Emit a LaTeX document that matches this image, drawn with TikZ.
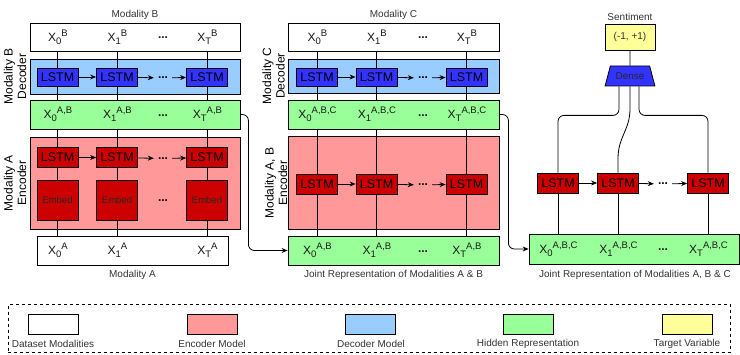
\documentclass[tikz,border=0pt]{standalone}
\usepackage{fontspec}
\setmainfont{Liberation Sans}
\usetikzlibrary{arrows.meta,shapes.geometric}
\definecolor{encfill}{HTML}{FF9999}
\definecolor{decfill}{HTML}{99CCFF}
\definecolor{hidfill}{HTML}{99FF99}
\definecolor{tgtfill}{HTML}{FFFF99}
\definecolor{redcell}{HTML}{CC0000}
\definecolor{bluecell}{HTML}{3333FF}
\definecolor{captxt}{HTML}{333333}
\tikzset{
  box/.style={draw=black, line width=0.8pt, inner sep=0pt, minimum width=#1},
  modbox/.style={box=#1, fill=white},
  hidbox/.style={box=#1, fill=hidfill},
  encbox/.style={box=#1, fill=encfill},
  decbox/.style={box=#1, fill=decfill},
  lstmred/.style={draw=black, line width=0.8pt, fill=redcell, inner sep=0pt, minimum width=41pt, minimum height=20pt, font=\fontsize{12.5}{14}\selectfont},
  lstmblue/.style={draw=black, line width=0.8pt, fill=bluecell, inner sep=0pt, minimum width=41pt, minimum height=18pt, font=\fontsize{12.5}{14}\selectfont},
  embedbox/.style={draw=black, line width=0.8pt, fill=redcell, inner sep=0pt, minimum width=41pt, minimum height=40pt, font=\fontsize{9.5}{11}\selectfont, text=black!85},
  xlab/.style={inner sep=0pt, font=\fontsize{12}{14}\selectfont, text=black!90},
  dotsn/.style={inner sep=0pt, minimum width=18pt, font=\fontsize{12}{14}\selectfont\bfseries},
  captext/.style={inner sep=0pt, font=\fontsize{10}{12}\selectfont, text=captxt},
  side/.style={inner sep=0pt, rotate=90, align=center, font=\fontsize{12}{13.5}\selectfont},
  conn/.style={line width=0.8pt, black},
  arr/.style={conn, -{Stealth[length=6pt,width=5pt]}},
  legbox/.style={draw=black, line width=0.8pt, minimum width=50pt, minimum height=20pt, inner sep=0pt},
}
\newcommand{\xv}[2]{X\raisebox{-3pt}{\fontsize{9.5}{10}\selectfont #1}\raisebox{5pt}{\fontsize{9.5}{10}\selectfont #2}}
\begin{document}
\begin{tikzpicture}[x=1pt,y=-1pt]
\useasboundingbox (0,0) rectangle (740,355);

% ================= LEFT COLUMN =================
\node[captext] (capB) at (135,15) {Modality B};
\node[decbox=210pt, minimum height=35pt] (blueB) at (135,76.5) {};
\node[encbox=210pt, minimum height=92pt] (redA) at (135,183) {};
\node[side] (labB) at (15,76.5) {Modality B\\Decoder};
\node[side] (labA) at (15,183) {Modality A\\Encoder};

\node[modbox=210pt, minimum height=28pt] (topB) at (135,37) {};
\node[modbox=191pt, minimum height=29pt] (botA) at (132.5,250.5) {};

\coordinate (cL0) at (57.5,0);
\coordinate (cL1) at (117,0);
\coordinate (cL2) at (207,0);
\foreach \c in {cL0,cL1,cL2}{
  \draw[conn] (topB.south -| \c) -- (botA.north -| \c);
}
\node[hidbox=210pt, minimum height=29pt] (hidAB1) at (135,114.5) {};

\node[lstmblue] (lb0) at (57.5,77) {LSTM};
\node[lstmblue] (lb1) at (117,77) {LSTM};
\node[lstmblue] (lb2) at (207,77) {LSTM};
\node[dotsn] (dlb) at (163,78) {...};
\draw[arr] (lb0) -- (lb1);
\draw[arr] (lb1) -- (dlb);
\draw[arr] (dlb) -- (lb2);

\node[lstmred] (la0) at (57.5,157.5) {LSTM};
\node[lstmred] (la1) at (117,157.5) {LSTM};
\node[lstmred] (la2) at (207,157.5) {LSTM};
\node[dotsn] (dla) at (163,158.5) {...};
\draw[arr] (la0) -- (la1);
\draw[arr] (la1) -- (dla);
\draw[arr] (dla) -- (la2);

\node[embedbox] (e0) at (57.5,200) {Embed};
\node[embedbox] (e1) at (117,200) {Embed};
\node[embedbox] (e2) at (207,200) {Embed};
\node[dotsn] (de) at (163,201) {...};

\node[xlab] (xb0) at (58,37) {\xv{0}{B}};
\node[xlab] (xb1) at (117.5,37) {\xv{1}{B}};
\node[xlab] (xbd) at (163,38) {\textbf{...}};
\node[xlab] (xb2) at (207.5,37) {\xv{T}{B}};

\node[xlab] (xab0) at (58,114.5) {\xv{0}{A,B}};
\node[xlab] (xab1) at (117.5,114.5) {\xv{1}{A,B}};
\node[xlab] (xabd) at (163,115.5) {\textbf{...}};
\node[xlab] (xab2) at (207.5,114.5) {\xv{T}{A,B}};

\node[xlab] (xa0) at (58,250.5) {\xv{0}{A}};
\node[xlab] (xa1) at (117.5,250.5) {\xv{1}{A}};
\node[xlab] (xa2) at (207.5,250.5) {\xv{T}{A}};
\node[captext] (capA) at (132.5,275) {Modality A};

% ================= MIDDLE COLUMN =================
\node[captext] (capC) at (393.5,15) {Modality C};
\node[decbox=211pt, minimum height=34pt] (blueC) at (393.5,76) {};
\node[encbox=211pt, minimum height=93pt] (redAB) at (393.5,182.5) {};
\node[side] (labC) at (273.5,76) {Modality C\\Decoder};
\node[side] (labAB) at (276,183) {Modality A, B\\Encoder};

\node[modbox=211pt, minimum height=28pt] (topC) at (393.5,37) {};
\node[hidbox=211pt, minimum height=29pt] (hidAB2) at (393.5,250.5) {};

\coordinate (cM0) at (317,0);
\coordinate (cM1) at (376.5,0);
\coordinate (cM2) at (466.5,0);
\foreach \c in {cM0,cM1,cM2}{
  \draw[conn] (topC.south -| \c) -- (hidAB2.north -| \c);
}
\node[hidbox=211pt, minimum height=29pt] (hidABC1) at (393.5,114.5) {};

\node[lstmblue] (mb0) at (317,77) {LSTM};
\node[lstmblue] (mb1) at (376.5,77) {LSTM};
\node[lstmblue] (mb2) at (466.5,77) {LSTM};
\node[dotsn] (dmb) at (423,78) {...};
\draw[arr] (mb0) -- (mb1);
\draw[arr] (mb1) -- (dmb);
\draw[arr] (dmb) -- (mb2);

\node[lstmred] (ma0) at (317,184) {LSTM};
\node[lstmred] (ma1) at (376.5,184) {LSTM};
\node[lstmred] (ma2) at (466.5,184) {LSTM};
\node[dotsn] (dma) at (423,185) {...};
\draw[arr] (ma0) -- (ma1);
\draw[arr] (ma1) -- (dma);
\draw[arr] (dma) -- (ma2);

\node[xlab] (xc0) at (317.5,37) {\xv{0}{B}};
\node[xlab] (xc1) at (377,37) {\xv{1}{B}};
\node[xlab] (xcd) at (423,38) {\textbf{...}};
\node[xlab] (xc2) at (467,37) {\xv{T}{B}};

\node[xlab] (xabc0) at (317.5,114.5) {\xv{0}{A,B,C}};
\node[xlab] (xabc1) at (377,114.5) {\xv{1}{A,B,C}};
\node[xlab] (xabcd) at (423,115.5) {\textbf{...}};
\node[xlab] (xabc2) at (467,114.5) {\xv{T}{A,B,C}};

\node[xlab] (xm0) at (317.5,250.5) {\xv{0}{A,B}};
\node[xlab] (xm1) at (377,250.5) {\xv{1}{A,B}};
\node[xlab] (xmd) at (423,251.5) {\textbf{...}};
\node[xlab] (xm2) at (467,250.5) {\xv{T}{A,B}};
\node[captext] (capJAB) at (393.5,275) {Joint Representation of Modalities A \& B};

% connector left -> middle
\draw[arr, rounded corners=6pt] (hidAB1.east) -- ++(8,0) |- (hidAB2.west);

% ================= RIGHT COLUMN =================
\node[captext] (capS) at (630,17) {Sentiment};
\node[draw=black, line width=0.8pt, fill=tgtfill, minimum width=50pt, minimum height=26pt, inner sep=0pt, font=\fontsize{10}{12}\selectfont, text=captxt] (tgt) at (630,37) {(-1, +1)};
\node[draw=black, line width=0.8pt, fill=bluecell, trapezium, trapezium angle=61, trapezium stretches=true, minimum width=50pt, minimum height=20pt, inner sep=0pt, font=\fontsize{10}{12}\selectfont, text=black!85] (dense) at (630,76) {Dense};
\draw[conn] (tgt.south) -- (dense.north);

\node[hidbox=210pt, minimum height=30pt] (hidABC2) at (634,249) {};
\node[lstmred] (r0) at (558,183) {LSTM};
\node[lstmred] (r1) at (618,183) {LSTM};
\node[lstmred] (r2) at (708,183) {LSTM};
\node[dotsn] (dr) at (663,184) {...};
\draw[arr] (r0) -- (r1);
\draw[arr] (r1) -- (dr);
\draw[arr] (dr) -- (r2);

\draw[conn, rounded corners=6pt] ([xshift=-11pt]dense.south) -- ++(0,29) -| (r0.north);
\draw[conn, rounded corners=6pt] ([xshift=9pt]dense.south) -- ++(0,29) -| (r2.north);
\draw[conn] (dense.south) -- ++(0,22) .. controls +(0,22) and +(0,-22) .. ([yshift=14pt]r1.north) -- (r1.north);

\foreach \n in {r0,r1,r2}{
  \draw[conn] (\n.south) -- (\n.south |- hidABC2.north);
}

\node[xlab] (xr0) at (558.5,249) {\xv{0}{A,B,C}};
\node[xlab] (xr1) at (618.5,249) {\xv{1}{A,B,C}};
\node[xlab] (xrd) at (663,250) {\textbf{...}};
\node[xlab] (xr2) at (708.5,249) {\xv{T}{A,B,C}};
\node[captext] (capJABC) at (635,275) {Joint Representation of Modalities A, B \& C};

% connector middle -> right
\draw[arr, rounded corners=6pt] (hidABC1.east) -- ++(9,0) |- (hidABC2.west);

% ================= LEGEND =================
\node[draw=black, line width=0.7pt, dashed, minimum width=722pt, minimum height=48.5pt, inner sep=0pt] (legend) at (369,328.5) {};
\node[legbox, fill=white] (lg1) at (53,324) {};
\node[legbox, fill=encfill] (lg2) at (212,324) {};
\node[legbox, fill=decfill] (lg3) at (370.5,324) {};
\node[legbox, fill=hidfill] (lg4) at (528,324) {};
\node[legbox, fill=tgtfill] (lg5) at (687,324) {};
\node[captext] (lt1) at (53,344) {Dataset Modalities};
\node[captext] (lt2) at (212,344) {Encoder Model};
\node[captext] (lt3) at (371,344) {Decoder Model};
\node[captext] (lt4) at (528,344) {Hidden Representation};
\node[captext] (lt5) at (687,344) {Target Variable};
\end{tikzpicture}
\end{document}
